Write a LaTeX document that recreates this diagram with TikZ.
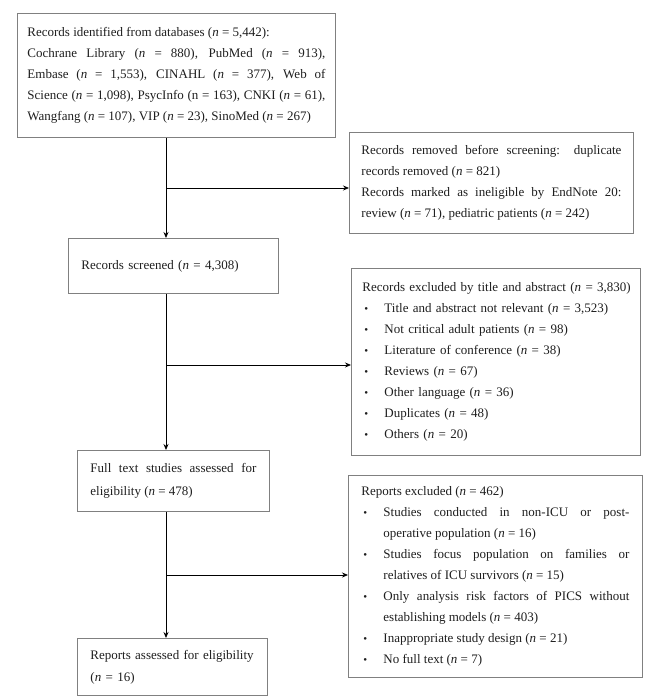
\documentclass[tikz,border=0pt]{standalone}
\usepackage{fontspec}
\setmainfont{Liberation Serif}
\usetikzlibrary{arrows.meta,calc}
\newcommand\vn{\textit{n}}
\newcommand\itm[1]{\par\noindent\hangindent=22pt\hangafter=1\hspace*{2pt}\makebox[20pt][l]{\raisebox{0.5pt}{\fontsize{11}{11}\selectfont\textbullet}}#1}
\definecolor{boxgray}{RGB}{128,128,128}
\definecolor{txt}{RGB}{30,30,30}
\begin{document}
\begin{tikzpicture}[x=1pt,y=-1pt,
  box/.style={draw=boxgray,line width=0.9pt,anchor=north west,inner ysep=0pt,
    font=\fontsize{13}{21}\selectfont,text=txt},
  conn/.style={draw=black,line width=0.8pt},
  arr/.style={conn,-{Stealth[length=6pt,width=5pt]}}]
\useasboundingbox (0,0) rectangle (653,700);
\node[box,inner xsep=10pt,text width=298pt,minimum width=318pt,minimum height=124pt,align=justify] (A) at (17,13)
 {Records identified from databases (\vn{} = 5,442):\\
  Cochrane Library (\vn{} = 880), PubMed (\vn{} = 913),\linebreak
  Embase (\vn{} = 1,553), CINAHL (\vn{} = 377), Web of\linebreak
  Science (\vn{} = 1,098), PsycInfo (n = 163), CNKI (\vn{} = 61),\linebreak
  Wangfang (\vn{} = 107), VIP (\vn{} = 23), SinoMed (\vn{} = 267)};
\node[box,inner xsep=12pt,text width=260pt,minimum width=284pt,minimum height=101pt,align=justify] (B) at (349,132)
 {Records removed before screening: duplicate\linebreak
  records removed (\vn{} = 821)\par
  Records marked as ineligible by EndNote 20:\linebreak
  review (\vn{} = 71), pediatric patients (\vn{} = 242)};
\node[box,inner xsep=13pt,text width=184pt,minimum width=210pt,minimum height=55pt,align=left] (C) at (68,238)
 {Records screened (\vn{} = 4,308)};
\node[box,inner xsep=11pt,text width=267pt,minimum width=289pt,minimum height=187pt,align=left] (D) at (351,268)
 {\mbox{Records excluded by title and abstract (\vn{} = 3,830)}
  \itm{Title and abstract not relevant (\vn{} = 3,523)}
  \itm{Not critical adult patients (\vn{} = 98)}
  \itm{Literature of conference (\vn{} = 38)}
  \itm{Reviews (\vn{} = 67)}
  \itm{Other language (\vn{} = 36)}
  \itm{Duplicates (\vn{} = 48)}
  \itm{Others (\vn{} = 20)}};
\node[box,inner xsep=13pt,text width=166pt,minimum width=192pt,minimum height=61pt,align=justify,
  font=\fontsize{13}{23}\selectfont] (E) at (77,450)
 {Full text studies assessed for\linebreak eligibility (\vn{} = 478)};
\node[box,inner xsep=13pt,text width=268pt,minimum width=294pt,minimum height=202pt,align=justify] (F) at (348,475)
 {Reports excluded (\vn{} = 462)
  \itm{Studies conducted in non-ICU or post-\linebreak operative population (\vn{} = 16)}
  \itm{Studies focus population on families or\linebreak relatives of ICU survivors (\vn{} = 15)}
  \itm{Only analysis risk factors of PICS without\linebreak establishing models (\vn{} = 403)}
  \itm{Inappropriate study design (\vn{} = 21)}
  \itm{No full text (\vn{} = 7)}};
\node[box,inner xsep=13pt,text width=164pt,minimum width=190pt,minimum height=57pt,align=left,
  font=\fontsize{13}{22}\selectfont] (G) at (77,638)
 {Reports assessed for eligibility\\(\vn{} = 16)};
\coordinate (j1) at (166,188);
\coordinate (j2) at (166,365);
\coordinate (j3) at (166,575);
\draw[arr] (j1 |- A.south) -- (j1 |- C.north);
\draw[arr] (j1) -- (j1 -| B.west);
\draw[arr] (j2 |- C.south) -- (j2 |- E.north);
\draw[arr] (j2) -- (j2 -| D.west);
\draw[arr] (j3 |- E.south) -- (j3 |- G.north);
\draw[arr] (j3) -- (j3 -| F.west);
\end{tikzpicture}
\end{document}
